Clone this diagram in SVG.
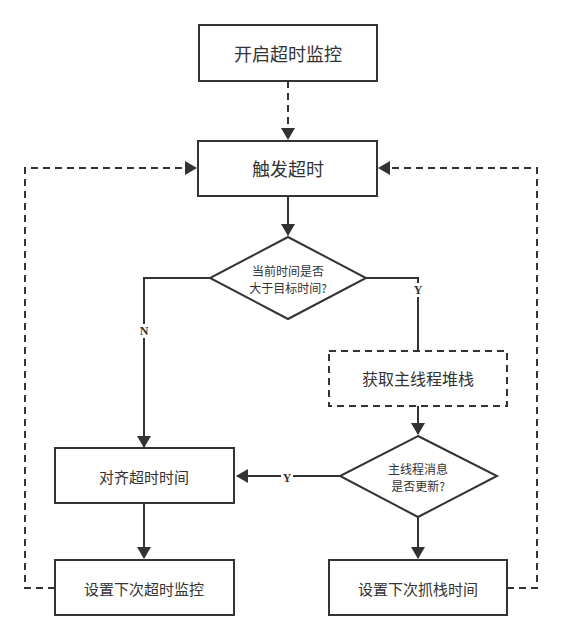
<svg xmlns="http://www.w3.org/2000/svg" width="561" height="640" viewBox="0 0 561 640">
<defs>
<marker id="ahs" markerWidth="12" markerHeight="14" refX="11" refY="7" orient="auto" markerUnits="userSpaceOnUse" viewBox="0 0 12 14"><path d="M0,0 L12,7 L0,14 z" fill="#333"/></marker>
</defs>
<style>
.n{fill:#fff;stroke:#333;stroke-width:2}
.d{stroke-dasharray:7,5}
.t{font-family:"Noto Sans CJK SC","Liberation Sans",sans-serif;fill:#333;text-anchor:middle;dominant-baseline:central}
.c{fill:none;stroke:#333;stroke-width:2}
.l{font-family:"Liberation Serif",serif;font-weight:bold;font-size:12px;fill:#333;text-anchor:middle;dominant-baseline:central}
.bg{fill:#fff}
</style>
<rect width="561" height="640" fill="#fff"/>
<g id="connectors">
<path class="c d" d="M288,81 V139" marker-end="url(#ahs)"/>
<path class="c" d="M288,196 V235" marker-end="url(#ahs)"/>
<path class="c" d="M210,278 H144 V447" marker-end="url(#ahs)"/>
<path class="c" d="M366,278 H418 V350"/>
<path class="c" d="M418,406 V434" marker-end="url(#ahs)"/>
<path class="c" d="M340,476 H237" marker-end="url(#ahs)"/>
<path class="c" d="M144,503 V558" marker-end="url(#ahs)"/>
<path class="c" d="M418,517 V558" marker-end="url(#ahs)"/>
<path class="c d" d="M55,588 H25 V168 H196" marker-end="url(#ahs)"/>
<path class="c d" d="M507,588 H537 V168 H379" marker-end="url(#ahs)"/>
<rect class="bg" x="138" y="324" width="12" height="14"/>
<text class="l" x="144" y="331">N</text>
<rect class="bg" x="412" y="283" width="12" height="14"/>
<text class="l" x="418" y="290">Y</text>
<rect class="bg" x="281" y="471" width="12" height="14"/>
<text class="l" x="287" y="478">Y</text>
</g>
<g id="start"><rect class="n" x="199" y="25" width="178" height="56"/><text class="t" x="288" y="53" font-size="18">开启超时监控</text></g>
<g id="trigger"><rect class="n" x="198" y="141" width="179" height="55"/><text class="t" x="288" y="168" font-size="18">触发超时</text></g>
<g id="check1"><polygon class="n" points="288,237 366,278 288,319 210,278"/><text class="t" x="288" y="270" font-size="12">当前时间是否</text><text class="t" x="288" y="287" font-size="12">大于目标时间?</text></g>
<g id="grab"><rect class="n d" x="329" y="351" width="178" height="55"/><text class="t" x="418" y="378" font-size="16">获取主线程堆栈</text></g>
<g id="check2"><polygon class="n" points="418,436 497,476 418,517 340,476"/><text class="t" x="418" y="468" font-size="12">主线程消息</text><text class="t" x="418" y="485" font-size="12">是否更新?</text></g>
<g id="align"><rect class="n" x="55" y="448" width="179" height="55"/><text class="t" x="144" y="476" font-size="15">对齐超时时间</text></g>
<g id="setnext"><rect class="n" x="55" y="560" width="179" height="55"/><text class="t" x="144" y="588" font-size="15">设置下次超时监控</text></g>
<g id="setgrab"><rect class="n" x="329" y="560" width="178" height="55"/><text class="t" x="418" y="588" font-size="15">设置下次抓栈时间</text></g>
</svg>
